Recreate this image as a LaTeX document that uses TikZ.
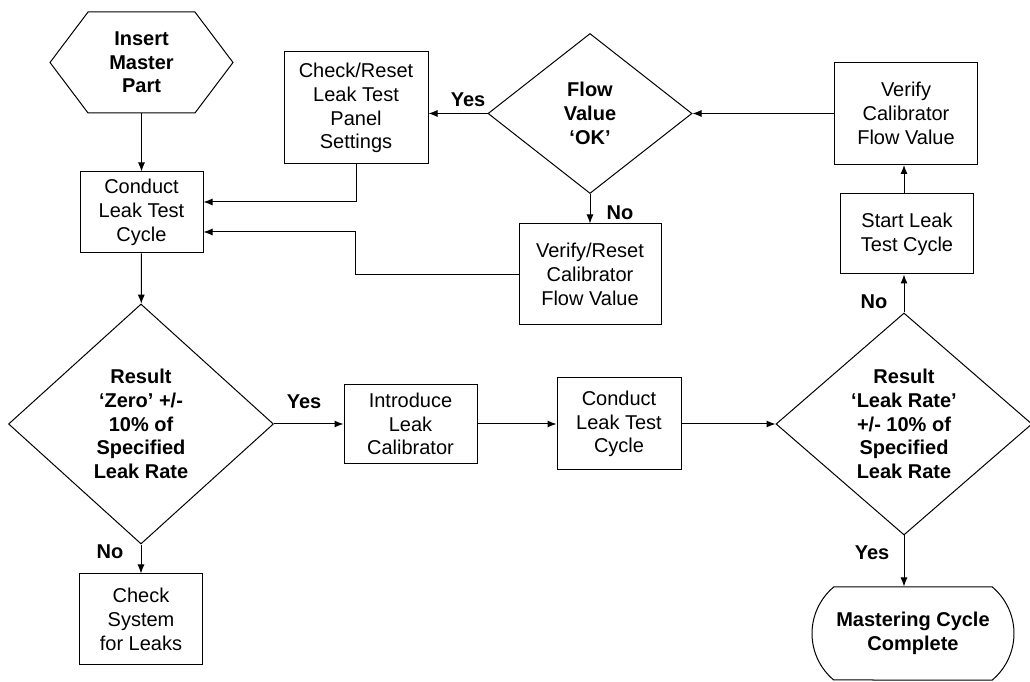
\documentclass[tikz,border=0pt]{standalone}
\usepackage{fontspec}
\setmainfont{Liberation Sans}
\usetikzlibrary{shapes.geometric,shapes.symbols,shapes.misc,arrows.meta,positioning,calc}
\tikzset{
    flowbox/.style={
        rectangle,
        draw,
        line width=1pt,
        inner sep=2pt,
        align=center,
        font=\fontsize{20}{23.7}\selectfont
    },
    decision/.style={
        diamond,
        draw,
        line width=1pt,
        inner sep=0pt,
        align=center,
        font=\fontsize{20}{23.7}\selectfont\bfseries
    },
    startnode/.style={
        signal,
        signal to=west and east,
        signal pointer angle=106,
        draw,
        line width=1pt,
        inner sep=0pt,
        align=center,
        font=\fontsize{20}{23.7}\selectfont\bfseries
    },
    endnode/.style={
        rounded rectangle,
        rounded rectangle arc length=100,
        draw,
        line width=1pt,
        inner sep=0pt,
        align=center,
        font=\fontsize{20}{23.7}\selectfont\bfseries
    },
    answer/.style={
        font=\fontsize{20}{24}\selectfont\bfseries
    },
    flowarrow/.style={
        -{Latex[length=9pt,width=7pt]},
        line width=1pt
    }
}
\begin{document}
\begin{tikzpicture}[x=1pt,y=1pt]
    \useasboundingbox (0,0) rectangle (1030,682);
    % Master part and zero check
    \node[startnode, minimum width=183pt, minimum height=101pt] (insert) at (141.5,619.5) {Insert\\Master\\Part};
    \node[flowbox, minimum width=123pt, minimum height=81pt] (cond_first) at (141.5,469.5) {Conduct\\Leak Test\\Cycle};
    \node[decision, minimum width=265pt, minimum height=240pt] (zero_check) at (141,258) {Result\\‘Zero’ +/-\\10\% of\\Specified\\Leak Rate};
    \node[flowbox, minimum width=123pt, minimum height=91pt] (sys_check) at (141,62.5) {Check\\System\\for Leaks};

    % Calibrator run
    \node[flowbox, minimum width=133pt, minimum height=79pt] (intro) at (410.5,258) {Introduce\\Leak\\Calibrator};
    \node[flowbox, minimum width=124pt, minimum height=92pt] (cond_second) at (619,258) {Conduct\\Leak Test\\Cycle};
    \node[decision, aspect=1.2, minimum width=256pt, minimum height=222pt] (rate_check) at (904,258) {Result\\‘Leak Rate’\\+/- 10\% of\\Specified\\Leak Rate};
    \node[endnode, minimum width=202pt, minimum height=93pt] (complete) at (913,48.5) {Mastering Cycle\\Complete};

    % Flow value loop
    \node[flowbox, minimum width=133pt, minimum height=80pt] (start_cycle) at (907,448) {Start Leak\\Test Cycle};
    \node[flowbox, minimum width=143pt, minimum height=102pt] (verify_flow) at (906,568.5) {Verify\\Calibrator\\Flow Value};
    \node[decision, minimum width=204pt, minimum height=160pt] (flow_ok) at (590,568.5) {Flow\\Value\\‘OK’};
    \node[flowbox, minimum width=144pt, minimum height=112pt] (reset_panel) at (356,574) {Check/Reset\\Leak Test\\Panel\\Settings};
    \node[flowbox, minimum width=142pt, minimum height=101pt] (reset_flow) at (590,407.5) {Verify/Reset\\Calibrator\\Flow Value};
    \coordinate (loop_corner) at (355,450);

    % Connectors
    \draw[flowarrow] (insert) -- (cond_first);
    \draw[flowarrow] (cond_first) -- (zero_check);
    \draw[flowarrow] (zero_check) -- (intro);
    \draw[flowarrow] (zero_check) -- (sys_check);
    \draw[flowarrow] (intro) -- (cond_second);
    \draw[flowarrow] (cond_second) -- (rate_check);
    \draw[flowarrow] (rate_check.north) -- (rate_check.north |- start_cycle.south);
    \draw[flowarrow] (rate_check.south) -- (rate_check.south |- complete.north);
    \draw[flowarrow] (rate_check.north |- start_cycle.north) -- (rate_check.north |- verify_flow.south);
    \draw[flowarrow] (verify_flow) -- (flow_ok);
    \draw[flowarrow] (flow_ok.west) -- (flow_ok.west -| reset_panel.east);
    \draw[flowarrow] (flow_ok) -- (reset_flow);
    \draw[flowarrow] (reset_panel.south) |- ([yshift=10.5pt]cond_first.east);
    \draw[flowarrow] (reset_flow.west) -| (loop_corner) -- (loop_corner -| cond_first.east);

    % Answers
    \node[answer] (yes_panel) at (468,582) {Yes};
    \node[answer] (no_flow) at (620,469) {No};
    \node[answer] (yes_zero) at (304,280) {Yes};
    \node[answer] (no_zero) at (110,130) {No};
    \node[answer] (no_rate) at (874,380) {No};
    \node[answer] (yes_rate) at (872,129) {Yes};
\end{tikzpicture}
\end{document}
